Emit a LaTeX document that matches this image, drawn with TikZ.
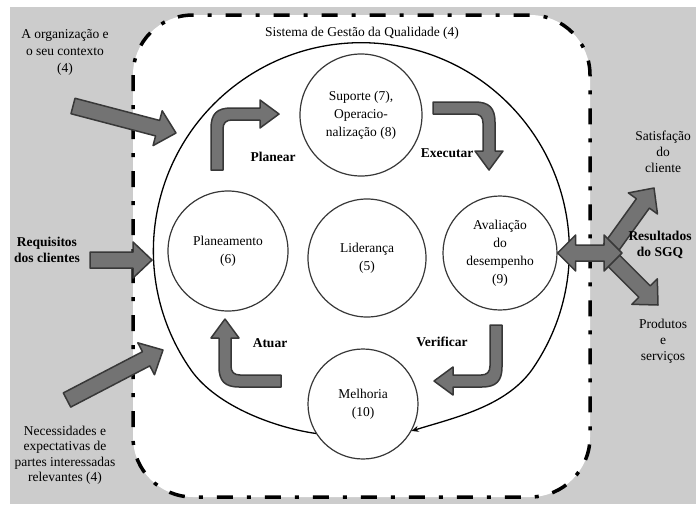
\documentclass[tikz,border=0pt]{standalone}
\usepackage{fontspec}
\setmainfont{Liberation Serif}
\usetikzlibrary{calc,arrows.meta}
\tikzset{
    bloco/.style={fill=black!55, draw=black!78, line width=1.5pt, line join=round},
    etapa/.style={circle, draw=black!78, line width=1.2pt, fill=white, align=center, inner sep=0pt, font=\fontsize{13.5}{18}\selectfont},
    rotulo/.style={align=center, font=\fontsize{13.5}{17}\selectfont},
    negrito/.style={align=center, font=\bfseries\fontsize{13.5}{16}\selectfont},
}
\begin{document}
\begin{tikzpicture}[x=1pt,y=-1pt]
    \useasboundingbox (0,0) rectangle (696,504);
    \fill[black!20] (10,7) rectangle (696,504);
    \draw[fill=white, rounded corners=60pt, line width=3.5pt, dash pattern=on 16pt off 14pt on 4pt off 14pt] (133,15) rectangle (590,497);
    \node[etapa, minimum size=122pt] (supp) at (361,115) {Suporte (7),\\Operacio-\\nalização (8)};
    \node[etapa, minimum size=120pt] (plan) at (228,251) {Planeamento\\(6)};
    \node[etapa, minimum size=118pt] (lider) at (367,258) {Liderança\\(5)};
    \node[etapa, minimum size=114pt] (aval) at (500,253) {Avaliação\\do\\desempenho\\(9)};
    \node[etapa, minimum size=110pt] (melh) at (363,404) {Melhoria\\(10)};
    \draw[line width=1.3pt, -{Stealth[length=7pt,width=6pt]}] (melh.212) .. controls (277,428) and (217,407) .. (191,370)
        arc[start angle=145, end angle=395, radius=208] .. controls (505,407) and (453,418) .. (melh.331);
    \def\volta#1#2{\draw[bloco, shift={(#1)}, rotate=#2] (-6,56) -- (-6,14) .. controls (-6,0) and (0,-6) .. (14,-6)
        -- (43,-6) -- (43,-14) -- (62,0) -- (43,14) -- (43,6) -- (15,6) .. controls (9,6) and (6,9) .. (6,15) -- (6,56) -- cycle;}
    \volta{217,114}{0}
    \volta{489,108}{-90}
    \volta{496,381}{180}
    \volta{225,381}{90}
    \def\seta#1#2{\draw[bloco] ($(#1)!8pt!90:(#2)$) -- ($(#2)!19pt!(#1)!8pt!-90:(#1)$) -- ($(#2)!19pt!(#1)!18pt!-90:(#1)$)
        -- (#2) -- ($(#2)!19pt!(#1)!18pt!90:(#1)$) -- ($(#2)!19pt!(#1)!8pt!90:(#1)$) -- ($(#1)!8pt!-90:(#2)$) -- cycle;}
    \coordinate (orgA) at (73,106);
    \coordinate (orgB) at (176,133);
    \coordinate (reqA) at (90,260);
    \coordinate (reqB) at (152,260);
    \coordinate (necA) at (67,400);
    \coordinate (necB) at (163,350);
    \coordinate (satA) at (610,249);
    \coordinate (satB) at (654,188);
    \coordinate (proA) at (610,257);
    \coordinate (proB) at (658,305);
    \coordinate (resB) at (622,253);
    \seta{orgA}{orgB}
    \seta{reqA}{reqB}
    \seta{necA}{necB}
    \seta{satA}{satB}
    \seta{proA}{proB}
    \draw[bloco] (aval.east) -- ($(aval.east)!18pt!(resB)!18pt!90:(resB)$) -- ($(aval.east)!18pt!(resB)!8pt!90:(resB)$)
        -- ($(resB)!18pt!(aval.east)!8pt!-90:(aval.east)$) -- ($(resB)!18pt!(aval.east)!18pt!-90:(aval.east)$) -- (resB)
        -- ($(resB)!18pt!(aval.east)!18pt!90:(aval.east)$) -- ($(resB)!18pt!(aval.east)!8pt!90:(aval.east)$)
        -- ($(aval.east)!18pt!(resB)!8pt!-90:(resB)$) -- ($(aval.east)!18pt!(resB)!18pt!-90:(resB)$) -- cycle;
    \node[rotulo] (sgq) at (362,33) {Sistema de Gestão da Qualidade (4)};
    \node[rotulo] (org) at (65,52) {A organização e\\o seu contexto\\(4)};
    \node[negrito] (req) at (47,250) {Requisitos\\dos clientes};
    \node[rotulo, font=\fontsize{13.5}{15.5}\selectfont] (nec) at (65,455) {Necessidades e\\expectativas de\\partes interessadas\\relevantes (4)};
    \node[rotulo, font=\fontsize{13.5}{16}\selectfont] (sat) at (663,152) {Satisfação\\do\\cliente};
    \node[rotulo, font=\fontsize{13.5}{16}\selectfont] (pro) at (663,341) {Produtos\\e\\serviços};
    \node[negrito] (res) at (660,245) {Resultados\\do SGQ};
    \node[negrito] (planear) at (273,157) {Planear};
    \node[negrito] (executar) at (447,153) {Executar};
    \node[negrito] (verificar) at (442,342) {Verificar};
    \node[negrito] (atuar) at (270,343) {Atuar};
\end{tikzpicture}
\end{document}
